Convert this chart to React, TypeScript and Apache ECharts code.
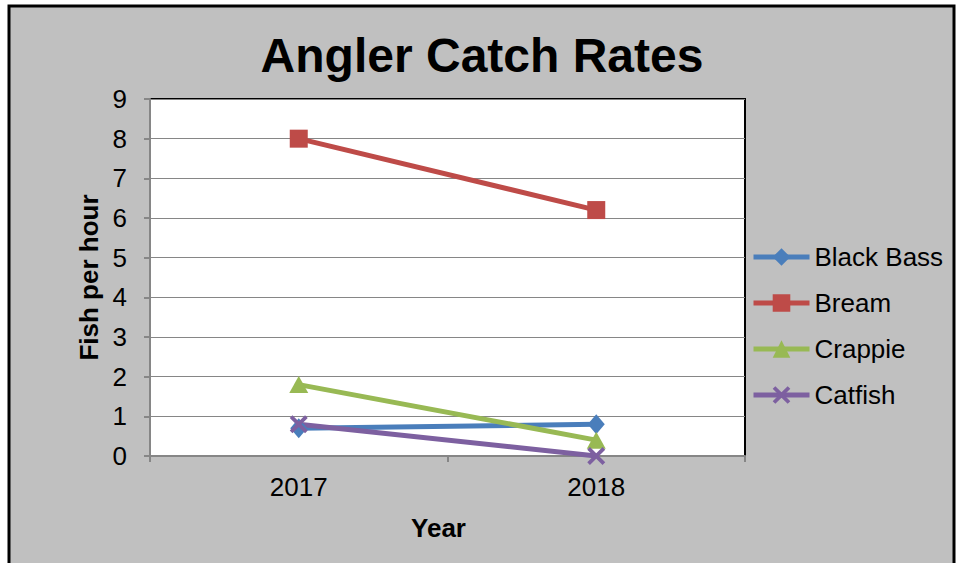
import React, { useEffect, useRef } from "react";
import * as echarts from "echarts";

const years = ["2017", "2018"];
const blackBass = [0.7, 0.8];
const bream = [8, 6.2];
const crappie = [1.8, 0.4];
const catfish = [0.8, 0];
const yTicks = { min: 0, max: 9, interval: 1 };

const crossPath =
  "path://M0,1.5L1.5,0L5,3.5L8.5,0L10,1.5L6.5,5L10,8.5L8.5,10L5,6.5L1.5,10L0,8.5L3.5,5Z";

export default function App() {
  const ref = useRef<HTMLDivElement>(null);
  useEffect(() => {
    if (!ref.current) return;
    const chart = echarts.init(ref.current, undefined, { renderer: "svg" });
    const font = "'Liberation Sans', Arial, sans-serif";
    const mk = (name: string, data: number[], color: string, symbol: string, size: any) => ({
      name,
      type: "line",
      data,
      symbol,
      symbolSize: size,
      showAllSymbol: true,
      lineStyle: { color, width: 5 },
      itemStyle: { color, borderWidth: 0 },
      emphasis: { disabled: true },
    });
    chart.setOption({
      animation: false,
      backgroundColor: "#ffffff",
      graphic: [
        {
          type: "rect",
          z: -10,
          silent: true,
          shape: { x: 9, y: 6, width: 945, height: 600 },
          style: { fill: "#c0c0c0", stroke: "#000000", lineWidth: 3 },
        },
        {
          type: "text",
          x: 482,
          y: 55,
          style: {
            text: "Angler Catch Rates",
            font: `bold 48px ${font}`,
            fill: "#000",
            align: "center",
            verticalAlign: "middle",
          },
        },
      ],
      grid: {
        left: 150,
        right: 211,
        top: 99,
        bottom: 107,
        show: true,
        backgroundColor: "#ffffff",
        borderColor: "#000000",
        borderWidth: 2,
      },
      legend: {
        orient: "vertical",
        left: 746,
        top: 239,
        itemWidth: 56,
        itemHeight: 22,
        itemGap: 20,
        lineStyle: { width: 5 },
        textStyle: { fontFamily: font, fontSize: 26, color: "#000" },
        data: ["Black Bass", "Bream", "Crappie", "Catfish"],
      },
      xAxis: {
        type: "category",
        data: years,
        boundaryGap: true,
        name: "Year",
        nameLocation: "middle",
        nameGap: 59,
        nameTextStyle: {
          fontFamily: font,
          fontSize: 26,
          fontWeight: "bold",
          color: "#000",
          padding: [0, 18, 0, 0],
        },
        axisLine: { lineStyle: { color: "#868686", width: 2 } },
        axisTick: { show: true, length: 6, lineStyle: { color: "#868686", width: 2 } },
        axisLabel: { fontFamily: font, fontSize: 26, color: "#000", margin: 18 },
      },
      yAxis: {
        type: "value",
        min: yTicks.min,
        max: yTicks.max,
        interval: yTicks.interval,
        name: "Fish per hour",
        nameLocation: "middle",
        nameRotate: 90,
        nameGap: 57,
        nameTextStyle: { fontFamily: font, fontSize: 26, fontWeight: "bold", color: "#000", verticalAlign: "middle" },
        axisLine: { show: true, lineStyle: { color: "#868686", width: 2 } },
        axisTick: { show: true, length: 6, lineStyle: { color: "#868686", width: 2 } },
        axisLabel: { fontFamily: font, fontSize: 26, color: "#000", margin: 23 },
        splitLine: { show: true, lineStyle: { color: "#868686", width: 1 } },
      },
      series: [
        mk("Black Bass", blackBass, "#4A7EBB", "diamond", [17, 20]),
        mk("Bream", bream, "#BE4B48", "rect", 18),
        mk("Crappie", crappie, "#98B954", "triangle", [19, 17]),
        mk("Catfish", catfish, "#7D60A0", crossPath, 18),
      ],
    });
    return () => chart.dispose();
  }, []);
  return (
    <div
      ref={ref}
      style={{ position: "fixed", left: 0, top: 0, width: 956, height: 563 }}
    />
  );
}
